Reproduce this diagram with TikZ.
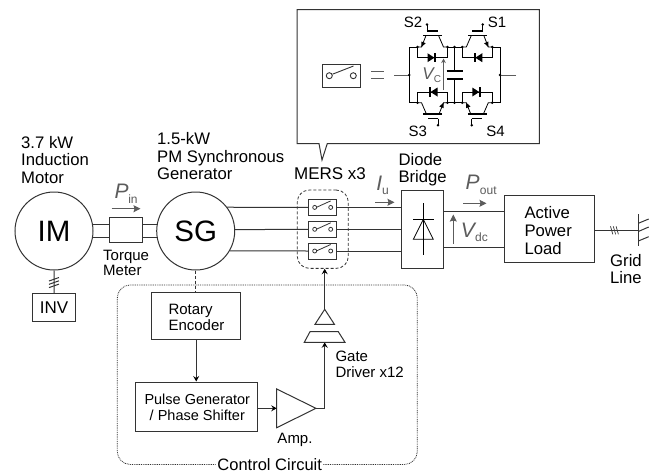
\documentclass[tikz,border=0pt]{standalone}
\usepackage{fontspec}
\setmainfont{Liberation Sans}
\usetikzlibrary{arrows.meta,calc}
\definecolor{lin}{gray}{0.2}
\definecolor{gtxt}{gray}{0.36}
\newcommand{\fs}[1]{\fontsize{#1}{#1}\selectfont}
\tikzset{
 wire/.style={draw=lin,line width=1pt},
 box/.style={draw=lin,line width=1pt,fill=white,inner sep=0pt},
 lbl/.style={inner sep=0pt,align=left,text=black},
 big/.style={lbl,font=\fontsize{16.7}{17.5}\selectfont},
 mid/.style={lbl,font=\fontsize{15}{16}\selectfont},
 ctlv/.style={inner sep=0pt,font=\fontsize{21}{21}\selectfont\itshape,text=gtxt},
 ctls/.style={inner sep=0pt,font=\fontsize{12}{12}\selectfont,text=gtxt},
 flow/.style={draw=gtxt,line width=1pt,-{Stealth[length=7pt,width=7pt,inset=1pt]}},
 blk/.style={draw=lin,line width=1.1pt,-{Stealth[length=5.5pt,width=6pt,inset=2pt,color=black]}},
 swbox/.style={box,minimum width=28pt,minimum height=16pt},
 igw/.style={draw=black,line width=0.8pt},
 term/.style={circle,fill=black,inner sep=0pt,minimum size=2.8pt},
 disc/.style={circle,draw=lin,line width=1pt,fill=white,minimum size=78pt,inner sep=0pt},
}
\newcommand{\swsym}[2]{%
 \node[swbox] (#2) at (#1) {};
 \draw[lin,line width=.8pt] ($(#2)+(-8,0)$) circle (2pt);
 \draw[lin,line width=.8pt] ($(#2)+(8,0)$) circle (2pt);
 \draw[lin,line width=.8pt] ($(#2)+(-6,-.2)$) -- ($(#2)+(8,-6.5)$);
}
% one IGBT with antiparallel diode: #1 centre, #2 yscale, #3 xscale
\newcommand{\igbt}[3]{%
 \begin{scope}[shift={(#1)},yscale=#2,xscale=#3]
  \draw[igw,line width=1.6pt] (-9.5,-11.5) -- (9.5,-11.5);
  \draw[igw,line width=1.6pt] (-5.8,-15.8) -- (5,-15.8);
  \draw[igw] (-5.5,-15.8) -- (-5.5,-22.5);
  \node[term] at (-5.5,-22.5) {};
  \draw[igw] (-6.5,-11.5) -- (-11,0) -- (-15,0);
  \draw[igw] (6,-11.5) -- (11,0) -- (15,0);
  \fill[black] (-11,0) -- (-11.2,-5.5) -- (-6.8,-3.8) -- cycle;
  \node[term] at (-15,0) {};
  \node[term] at (15,0) {};
  \draw[igw] (-15,0) -- (-15,10.7) -- (15,10.7) -- (15,0);
  \fill[black] (-5,6.2) -- (-5,15.2) -- (2,10.7) -- cycle;
  \draw[igw,line width=1.4pt] (2.5,6) -- (2.5,15.4);
 \end{scope}}
\begin{document}
\begin{tikzpicture}[x=1pt,y=-1pt]
\useasboundingbox (0,0) rectangle (661,475);
\fill[white] (0,0) rectangle (661,475);
% ---------- callout
\draw[lin,line width=1pt,fill=white] (297,9.5) -- (539.3,9.5) -- (539.3,143.5) -- (327.3,143.5) -- (322,160) -- (319,143.5) -- (297,143.5) -- cycle;
\node[box,minimum width=37.5pt,minimum height=23pt] (swbig) at (341.3,75.8) {};
\draw[lin,line width=.9pt] (329.3,75.7) circle (3pt);
\draw[lin,line width=.9pt] (353.3,75.7) circle (3pt);
\draw[lin,line width=.9pt] (332.5,74.2) -- (353.5,66);
\draw[gtxt,line width=1pt] (371.3,71) -- (384,71);
\draw[gtxt,line width=1pt] (371.3,78) -- (384,78);
\coordinate (lb) at (394,75);
\coordinate (rb) at (516,75);
\coordinate (ltop) at (409.3,47);
\coordinate (lbot) at (409.3,102.7);
\coordinate (rtop) at (500,47);
\coordinate (rbot) at (500,102.7);
\draw[igw] (ltop) -- (417.5,47);
\draw[igw] (ltop) -- (lbot) -- (417.5,102.7);
\draw[igw] (rtop) -- (492.3,47);
\draw[igw] (rtop) -- (rbot) -- (492.3,102.7);
\draw[igw] (447.5,47) -- (462.3,47);
\draw[igw] (447.5,102.7) -- (462.3,102.7);
\draw[igw] (454.5,47) -- (454.5,102.7);
\fill[white] (446,72) rectangle (463,78);
\draw[black,line width=2.2pt] (446.5,71) -- (462.5,71);
\draw[black,line width=2.2pt] (446.5,78.6) -- (462.5,78.6);
\igbt{432.5,47}{1}{1}
\igbt{432.5,102.7}{-1}{-1}
\igbt{477.3,47}{1}{-1}
\igbt{477.3,102.7}{-1}{1}
\draw[gtxt,line width=1pt] (lb) -- (409.3,75);
\draw[gtxt,line width=1pt] (rb) -- (500,75);
\node[term] at (409.3,75) {};
\node[term] at (500,75) {};
\node[term] at (454.5,47) {};
\node[term] at (454.5,102.7) {};
\node[mid] at (413,22) {S2};
\node[mid] at (417.7,131.5) {S3};
\node[mid] at (497,22) {S1};
\node[mid] at (495.5,131) {S4};
\node[ctlv,font=\fs{17}\itshape] at (428,74) {V};
\node[ctls,font=\fs{10}] at (437.5,79.5) {C};
\coordinate (vca) at (443.5,90);
\coordinate (vcb) at (443.5,58.5);
\draw[draw=gtxt,line width=.8pt,-{Stealth[length=4.5pt,width=4.5pt]}] (vca) -- (vcb);
% ---------- text labels
\node[big,anchor=west] (l1) at (21,160) {3.7 kW\\Induction\\Motor};
\node[big,anchor=west] (l2) at (157,156.5) {1.5-kW\\PM Synchronous\\Generator};
\node[lbl,font=\fs{17}] (l3) at (330,174) {MERS x3};
\node[big,anchor=west] (l4) at (398.3,169.5) {Diode\\Bridge};
\node[big,anchor=west] (l5) at (610,269) {Grid\\Line};
\node[mid,anchor=west,font=\fontsize{15}{15}\selectfont] (l6) at (103,262.5) {Torque\\Meter};
\node[mid] (l7) at (295,439.5) {Amp.};
\node[mid,anchor=west] (l8) at (335.3,364.5) {Gate\\Driver x12};
% ---------- machines
\node[disc,font=\fs{29.5}] (im) at (54,231) {IM};
\node[disc,font=\fs{29.5}] (sg) at (195.7,231) {SG};
\node[box,minimum width=33.4pt,minimum height=25.4pt] (tm) at (126,230) {};
\draw[wire] (im.9) -- (im.9 -| tm.west);
\draw[wire] (im.-9) -- (im.-9 -| tm.west);
\draw[wire] (sg.171 -| tm.east) -- (sg.171);
\draw[wire] (sg.189 -| tm.east) -- (sg.189);
\node[box,minimum width=43.7pt,minimum height=27.7pt,font=\fs{17}] (inv) at (54.1,307.8) {INV};
\draw[wire] (im.south) -- (inv.north);
\draw[wire] (49,281) -- (59,277.5);
\draw[wire] (49,284.3) -- (59,280.8);
\draw[wire] (49,287.6) -- (59,284.1);
% power flow labels
\node[ctlv] at (121.7,191.7) {P};
\node[ctls] at (133,199.3) {in};
\coordinate (pa) at (111.7,208.7);
\coordinate (pb) at (140.5,208.7);
\draw[flow] (pa) -- (pb);
\node[ctlv] at (379.3,183.3) {I};
\node[ctls] at (385.5,191.3) {u};
\coordinate (ia) at (375,202.3);
\coordinate (ib) at (394.5,202.3);
\draw[flow] (ia) -- (ib);
\node[ctlv] at (472.7,182.3) {P};
\node[ctls] at (488.3,190.3) {out};
\coordinate (oa) at (463.3,203.3);
\coordinate (ob) at (486.5,203.3);
\draw[flow] (oa) -- (ob);
% ---------- MERS + bridge + load
\node[box,minimum width=41.6pt,minimum height=78.3pt] (br) at (422.5,229.2) {};
\node[draw=lin,line width=.8pt,densely dashed,rounded corners=12pt,minimum width=51pt,minimum height=78.3pt,inner sep=0pt] (mers) at (322.8,229.2) {};
\swsym{322.7,207.4}{sw1}
\swsym{322.7,229.3}{sw2}
\swsym{322.7,251}{sw3}
\draw[wire] (sg.37.4) -- (sw1.west);
\draw[wire] (sg.2.5) -- (sw2.west);
\draw[wire] (sg.-30.9) -- (sw3.west);
\draw[wire] (sw1.east) -- (sw1.east -| br.west);
\draw[wire] (sw2.east) -- (sw2.east -| br.west);
\draw[wire] (sw3.east) -- (sw3.east -| br.west);
\draw[black,line width=.8pt] (423.3,203.3) -- (423.3,255);
\draw[black,line width=.8pt] (413,219.3) -- (433.8,219.3);
\draw[black,line width=.8pt] (423.3,219.3) -- (413.3,239.3) -- (433.3,239.3) -- cycle;
\node[box,minimum width=90pt,minimum height=66.6pt] (load) at (549.3,229) {};
\node[big,anchor=west,font=\fontsize{16.7}{17.8}\selectfont] (ltxt) at (524.3,230.5) {Active\\Power\\Load};
\draw[wire] (br.east |- 0,211.7) -- (load.west |- 0,211.7);
\draw[wire] (br.east |- 0,247) -- (load.west |- 0,247);
\coordinate (va) at (453.3,244);
\coordinate (vb) at (453.3,214.5);
\draw[flow] (va) -- (vb);
\node[ctlv] at (467.8,230) {V};
\node[ctls] at (481.5,237.5) {dc};
% grid
\coordinate (gtop) at (638.3,214.3);
\coordinate (gbot) at (638.3,246);
\draw[wire] (load.east |- 0,230.3) -- (638.3,230.3);
\draw[wire] (gtop) -- (gbot);
\draw[wire] (638.3,223.3) -- (648.7,219);
\draw[wire] (638.3,231.5) -- (648.7,227);
\draw[wire] (638.3,241) -- (648.7,236.7);
\draw[lin,line width=.7pt] (610.5,226.3) -- (612.8,234.3);
\draw[lin,line width=.7pt] (613.3,226.3) -- (615.6,234.3);
\draw[lin,line width=.7pt] (616.1,226.3) -- (618.4,234.3);
% ---------- control circuit
\node[draw=lin,line width=.8pt,dash pattern=on .9pt off .9pt,rounded corners=13pt,minimum width=300pt,minimum height=179.5pt,inner sep=0pt] (ctrl) at (267.3,374.7) {};
\node[lbl,fill=white,inner xsep=1pt,inner ysep=0pt,font=\fs{16.5}] (ctxt) at (269.7,464.5) {Control Circuit};
\node[box,minimum width=89pt,minimum height=46.6pt] (enc) at (196.2,316) {};
\node[mid,anchor=west] at (168.3,317) {Rotary\\Encoder};
\node[box,minimum width=122.3pt,minimum height=49pt] (pg) at (196.2,406.5) {};
\node[lbl,font=\fontsize{14.5}{16}\selectfont,align=center] at (197.3,407.3) {Pulse Generator\\/ Phase Shifter};
\draw[lin,line width=.9pt,densely dashed] (sg.south) -- (sg.south |- enc.north);
\draw[blk] (enc.south) -- (pg.north);
\coordinate (ampa) at (276.7,389);
\coordinate (ampb) at (276.7,427.7);
\coordinate (ampt) at (316,408.3);
\draw[lin,line width=1pt] (ampa) -- (ampb) -- (ampt) -- cycle;
\draw[blk,line width=.8pt] (pg.east |- 0,408.3) -- (276.7,408.3);
\coordinate (gdb) at (324.7,342.3);
\coordinate (gdap) at (324.7,309.3);
\draw[blk] (ampt) -- (324.7,408.3) -- (gdb);
\draw[lin,line width=1pt] (304.3,342.3) -- (310,331.7) -- (338.3,331.7) -- (345,342.3) -- cycle;
\draw[lin,line width=1pt] (gdap) -- (315,324.3) -- (334.4,324.3) -- cycle;
\draw[blk] (gdap) -- (gdap |- mers.south);
\end{tikzpicture}
\end{document}
